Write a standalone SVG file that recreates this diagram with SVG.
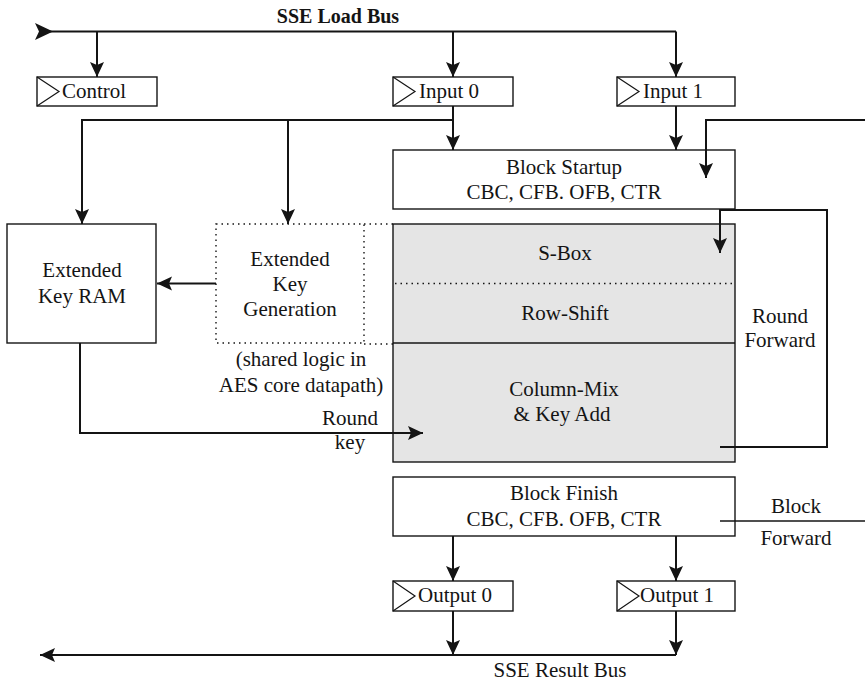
<svg xmlns="http://www.w3.org/2000/svg" width="865" height="681" viewBox="0 0 865 681" font-family="'Liberation Serif', Tinos, 'Times New Roman', 'DejaVu Serif', 'Noto Serif', serif">
  <style>
    text { font-family: "Liberation Serif", Tinos, "Times New Roman", "DejaVu Serif", "Noto Serif", serif; font-size: 21px; fill: #141414; text-anchor: middle; }
    .lbl { text-anchor: start; }
    .title { font-weight: bold; font-size: 20px; }
    .box { fill: #ffffff; stroke: #141414; stroke-width: 1.4; }
    .core { fill: #e5e5e5; stroke: #141414; stroke-width: 1.4; }
    .dot { fill: none; stroke: #141414; stroke-width: 1.4; stroke-dasharray: 1.5 4; }
    .reg { fill: none; stroke: #141414; stroke-width: 1.2; }
    .wire { fill: none; stroke: #141414; stroke-width: 2; }
    .thin { fill: none; stroke: #141414; stroke-width: 1.6; }
  </style>
  <defs>
    <marker id="arrow" markerUnits="userSpaceOnUse" markerWidth="18" markerHeight="16" viewBox="-15 -8 16 16" refX="0" refY="0" orient="auto">
      <path d="M0,0 L-15,-7 L-12,0 L-15,7 Z" fill="#141414"/>
    </marker>
  </defs>

  <!-- bus labels -->
  <text class="title" x="338" y="23">SSE Load Bus</text>
  <text x="560" y="677">SSE Result Bus</text>

  <!-- registers -->
  <g id="control">
    <rect class="box" x="37" y="77" width="120" height="29"/>
    <polyline class="reg" points="37,77 59,91.5 37,106"/>
    <text class="lbl" x="62" y="98">Control</text>
  </g>
  <g id="input0">
    <rect class="box" x="393" y="77" width="120" height="29"/>
    <polyline class="reg" points="393,77 415,91.5 393,106"/>
    <text class="lbl" x="419" y="98">Input 0</text>
  </g>
  <g id="input1">
    <rect class="box" x="617" y="77" width="118" height="29"/>
    <polyline class="reg" points="617,77 639,91.5 617,106"/>
    <text class="lbl" x="643" y="98">Input 1</text>
  </g>
  <g id="output0">
    <rect class="box" x="393" y="581" width="120" height="30"/>
    <polyline class="reg" points="393,581 415,596 393,611"/>
    <text class="lbl" x="418" y="602">Output 0</text>
  </g>
  <g id="output1">
    <rect class="box" x="617" y="581" width="118" height="30"/>
    <polyline class="reg" points="617,581 639,596 617,611"/>
    <text class="lbl" x="640" y="602">Output 1</text>
  </g>

  <!-- mode stages -->
  <g id="block-startup">
    <rect class="box" x="393" y="150" width="342" height="59"/>
    <text x="564" y="174">Block Startup</text>
    <text x="564" y="199">CBC, CFB. OFB, CTR</text>
  </g>
  <g id="block-finish">
    <rect class="box" x="393" y="477" width="342" height="59"/>
    <text x="564" y="500">Block Finish</text>
    <text x="564" y="526">CBC, CFB. OFB, CTR</text>
  </g>

  <!-- AES round datapath -->
  <g id="aes-core">
    <rect class="core" x="393" y="224" width="342" height="238"/>
    <line class="dot" x1="395" y1="283.5" x2="733" y2="283.5"/>
    <line class="box" x1="393" y1="343" x2="735" y2="343"/>
    <text x="565" y="260">S-Box</text>
    <text x="565" y="320">Row-Shift</text>
    <text x="564" y="396">Column-Mix</text>
    <text x="562" y="421">&amp; Key Add</text>
  </g>

  <!-- key schedule -->
  <g id="key-ram">
    <rect class="box" x="7" y="224" width="149" height="119"/>
    <text x="82" y="277">Extended</text>
    <text x="82" y="303">Key RAM</text>
  </g>
  <g id="key-gen">
    <rect class="dot" x="216" y="224" width="148" height="119"/>
    <path class="dot" d="M364,224 H393 M364,344 H393"/>
    <text x="290" y="266">Extended</text>
    <text x="290" y="291">Key</text>
    <text x="290" y="316">Generation</text>
    <text x="301" y="366">(shared logic in</text>
    <text x="301" y="392">AES core datapath)</text>
  </g>

  <!-- connectors -->
  <g id="connectors">
    <!-- load bus with taps -->
    <line class="wire" x1="50" y1="31.5" x2="676" y2="31.5"/>
    <path d="M53,31.5 L35,23 L39,31.5 L35,40 Z" fill="#141414"/>
    <line class="wire" x1="97" y1="31.5" x2="97" y2="77" marker-end="url(#arrow)"/>
    <line class="wire" x1="453" y1="31.5" x2="453" y2="77" marker-end="url(#arrow)"/>
    <line class="wire" x1="676" y1="31.5" x2="676" y2="77" marker-end="url(#arrow)"/>

    <!-- input registers into startup and key logic -->
    <line class="wire" x1="453" y1="106" x2="453" y2="150" marker-end="url(#arrow)"/>
    <line class="wire" x1="676" y1="106" x2="676" y2="150" marker-end="url(#arrow)"/>
    <path class="wire" d="M453,120 H82 V224" marker-end="url(#arrow)"/>
    <line class="wire" x1="288" y1="120" x2="288" y2="224" marker-end="url(#arrow)"/>

    <!-- block forward in -->
    <path class="wire" d="M865,120 H706 V178" marker-end="url(#arrow)"/>

    <!-- round forward loop -->
    <path class="wire" d="M720,447 H827 V210 H720 V253" marker-end="url(#arrow)"/>
    <text x="780" y="323">Round</text>
    <text x="780" y="347">Forward</text>

    <!-- key generation to RAM, round key out -->
    <line class="wire" x1="216" y1="283.5" x2="157" y2="283.5" marker-end="url(#arrow)"/>
    <path class="wire" d="M80,343 V433 H423" marker-end="url(#arrow)"/>
    <text x="350" y="425">Round</text>
    <text x="350" y="449">key</text>

    <!-- block forward out -->
    <line class="thin" x1="720" y1="521" x2="865" y2="521"/>
    <text x="796" y="513">Block</text>
    <text x="796" y="545">Forward</text>

    <!-- finish to outputs to result bus -->
    <line class="wire" x1="453" y1="536" x2="453" y2="581" marker-end="url(#arrow)"/>
    <line class="wire" x1="676" y1="536" x2="676" y2="581" marker-end="url(#arrow)"/>
    <line class="wire" x1="453" y1="611" x2="453" y2="655" marker-end="url(#arrow)"/>
    <line class="wire" x1="676" y1="611" x2="676" y2="655" marker-end="url(#arrow)"/>
    <line class="wire" x1="676" y1="655" x2="40" y2="655" marker-end="url(#arrow)"/>
  </g>
</svg>
